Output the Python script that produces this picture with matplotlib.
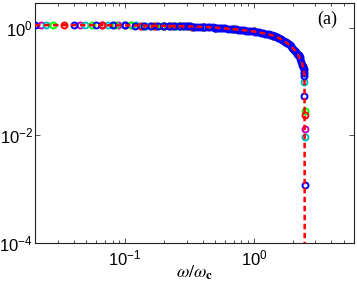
import numpy as np
import matplotlib
matplotlib.use("Agg")
import matplotlib.pyplot as plt
from matplotlib.ticker import FixedLocator, FixedFormatter, NullFormatter

plt.rcParams['font.family'] = ['Liberation Sans', 'DejaVu Sans']
plt.rcParams['mathtext.fontset'] = 'stix'

# courbe (trait rouge pointille)
w_curve = [0.02, 0.05, 0.1, 0.15, 0.2, 0.3, 0.4, 0.5, 0.6, 0.7, 0.8, 0.9, 1.0,
           1.1, 1.2, 1.3, 1.4, 1.5, 1.6, 1.7, 1.8, 1.9, 2.0, 2.1, 2.2, 2.3,
           2.36, 2.4, 2.44, 2.46, 2.47, 2.475, 2.48]
t_curve = [1.11, 1.108, 1.095, 1.082, 1.07, 1.05, 1.03, 1.0, 0.96, 0.93, 0.90,
           0.87, 0.845, 0.81, 0.78, 0.745, 0.71, 0.665, 0.62, 0.57, 0.52, 0.465,
           0.415, 0.37, 0.315, 0.255, 0.22, 0.19, 0.16, 0.13, 0.10, 0.03, 1e-5]

# serie bleue (points denses)
w_blue = [0.02, 0.04, 0.06, 0.08, 0.10, 0.12, 0.14, 0.16, 0.18, 0.20, 0.22, 0.24,
          0.26, 0.28, 0.30, 0.32, 0.34, 0.36, 0.38, 0.40, 0.42, 0.44, 0.46, 0.48,
          0.50, 0.52, 0.54, 0.56, 0.58, 0.60, 0.63, 0.66, 0.69, 0.72, 0.75, 0.78,
          0.81, 0.84, 0.87, 0.90, 0.94, 0.98, 1.02, 1.06, 1.10, 1.14, 1.18, 1.22,
          1.26, 1.30, 1.34, 1.38, 1.42, 1.46, 1.50, 1.54, 1.58, 1.62, 1.66, 1.70,
          1.74, 1.78, 1.82, 1.86, 1.90, 1.94, 1.98, 2.02, 2.06, 2.10, 2.14, 2.18,
          2.22, 2.26, 2.30, 2.34, 2.38, 2.41, 2.43, 2.45, 2.46, 2.47, 2.48]
t_blue = [1.11, 1.107, 1.104, 1.10, 1.095, 1.09, 1.085, 1.08, 1.075, 1.07, 1.066,
          1.062, 1.058, 1.054, 1.05, 1.046, 1.042, 1.038, 1.034, 1.03, 1.024,
          1.018, 1.012, 1.006, 1.00, 0.992, 0.984, 0.976, 0.968, 0.96, 0.951,
          0.942, 0.933, 0.924, 0.915, 0.906, 0.897, 0.888, 0.879, 0.87, 0.86,
          0.85, 0.838, 0.824, 0.81, 0.798, 0.786, 0.773, 0.759, 0.745, 0.731,
          0.717, 0.701, 0.683, 0.665, 0.647, 0.629, 0.61, 0.59, 0.57, 0.55, 0.53,
          0.509, 0.487, 0.465, 0.445, 0.425, 0.406, 0.388, 0.37, 0.348, 0.326,
          0.303, 0.279, 0.255, 0.232, 0.205, 0.183, 0.168, 0.145, 0.125, 0.054,
          0.0012]

w_mag = [0.0222, 0.0444, 0.0667, 0.0889, 0.111, 0.133, 0.156, 0.178, 0.2, 0.222,
         0.244, 0.267, 0.289, 0.311, 0.333, 0.4, 0.5, 0.7, 1.0, 1.4, 1.8, 2.2,
         2.44, 2.475]
t_mag = [1.11, 1.107, 1.103, 1.099, 1.094, 1.089, 1.083, 1.077, 1.07, 1.065,
         1.061, 1.056, 1.052, 1.048, 1.043, 1.03, 1.0, 0.93, 0.845, 0.71, 0.52,
         0.315, 0.16, 0.0132]

w_cyan = [0.0244, 0.0488, 0.0732, 0.0976, 0.122, 0.146, 0.171, 0.195, 0.22, 0.244,
          0.268, 0.293, 0.317, 0.342, 0.4, 0.5, 0.7, 1.0, 1.4, 1.8, 2.2, 2.44,
          2.465, 2.478]
t_cyan = [1.11, 1.106, 1.102, 1.097, 1.091, 1.085, 1.078, 1.071, 1.065, 1.061,
          1.056, 1.051, 1.047, 1.042, 1.03, 1.0, 0.93, 0.845, 0.71, 0.52, 0.315,
          0.146, 0.098, 0.0094]

w_green = [0.0278, 0.0556, 0.0833, 0.111, 0.139, 0.167, 0.194, 0.222, 0.25,
           0.278, 0.306, 0.333, 0.4, 0.5, 0.7, 1.0, 1.4, 1.8, 2.2, 2.4, 2.475]
t_green = [1.11, 1.105, 1.1, 1.094, 1.086, 1.078, 1.071, 1.065, 1.06, 1.055,
           1.049, 1.043, 1.03, 1.0, 0.93, 0.845, 0.71, 0.52, 0.315, 0.186, 0.028]

w_red = [0.0333, 0.0667, 0.1, 0.133, 0.167, 0.2, 0.233, 0.267, 0.3, 0.333, 0.4,
         0.5, 0.7, 1.0, 1.4, 1.8, 2.2, 2.4, 2.477]
t_red = [1.11, 1.103, 1.095, 1.087, 1.078, 1.07, 1.063, 1.056, 1.05, 1.043, 1.03,
         1.0, 0.93, 0.845, 0.71, 0.52, 0.315, 0.19, 0.024]

x_ticks = [0.1, 1]
x_labels = [r'$\mathregular{10^{-1}}$', r'$\mathregular{10^{0}}$']
y_ticks = [1e-4, 1e-2, 1]
y_labels = [r'$\mathregular{10^{-4}}$', r'$\mathregular{10^{-2}}$', r'$\mathregular{10^{0}}$']

fig = plt.figure(figsize=(3.57, 2.90), dpi=100)
ax = fig.add_axes([0.098, 0.162, 0.894, 0.829])

mk = dict(marker='o', ms=4.3, mew=1.4, mfc='none', ls='none')
ax.plot(w_mag, t_mag, color='m', zorder=2, **mk)
ax.plot(w_cyan, t_cyan, color='c', zorder=2, **mk)
ax.plot(w_green, t_green, color=(0, 1, 0), zorder=2, **mk)
ax.plot(w_red, t_red, color='r', zorder=2, **mk)
ax.plot(w_blue, t_blue, color='b', zorder=3, **mk)
ax.plot(w_curve, t_curve, color='r', ls=(0, (2.2, 1.4)), lw=1.8, zorder=4)

ax.set_xscale('log')
ax.set_yscale('log')
ax.set_xlim(0.02, 6)
ax.set_ylim(1e-4, 2.9)

ax.xaxis.set_major_locator(FixedLocator(x_ticks))
ax.xaxis.set_major_formatter(FixedFormatter(x_labels))
minors = [k * 10.0 ** e for e in (-2, -1, 0) for k in range(2, 10)]
ax.xaxis.set_minor_locator(FixedLocator(minors))
ax.xaxis.set_minor_formatter(NullFormatter())
ax.yaxis.set_major_locator(FixedLocator(y_ticks))
ax.yaxis.set_major_formatter(FixedFormatter(y_labels))
ax.yaxis.set_minor_locator(FixedLocator([]))

ax.tick_params(which='both', direction='in', top=True, right=True, labelsize=12,
               width=0.6, color='#333333')
ax.tick_params(which='major', length=3.5)
ax.tick_params(which='minor', length=2)
ax.tick_params(axis='x', pad=4)
ax.tick_params(axis='y', pad=1.5)
for s in ax.spines.values():
    s.set_linewidth(0.8)
    s.set_color('#222222')

ax.set_xlabel(r'$\omega/\omega_{\mathbf{c}}$', fontsize=13)
ax.xaxis.set_label_coords(0.5, -0.085)
ax.text(0.915, 0.93, '(a)', transform=ax.transAxes, fontsize=13,
        family='Liberation Serif', ha='center', va='center')

fig.savefig('out.png', dpi=100)
